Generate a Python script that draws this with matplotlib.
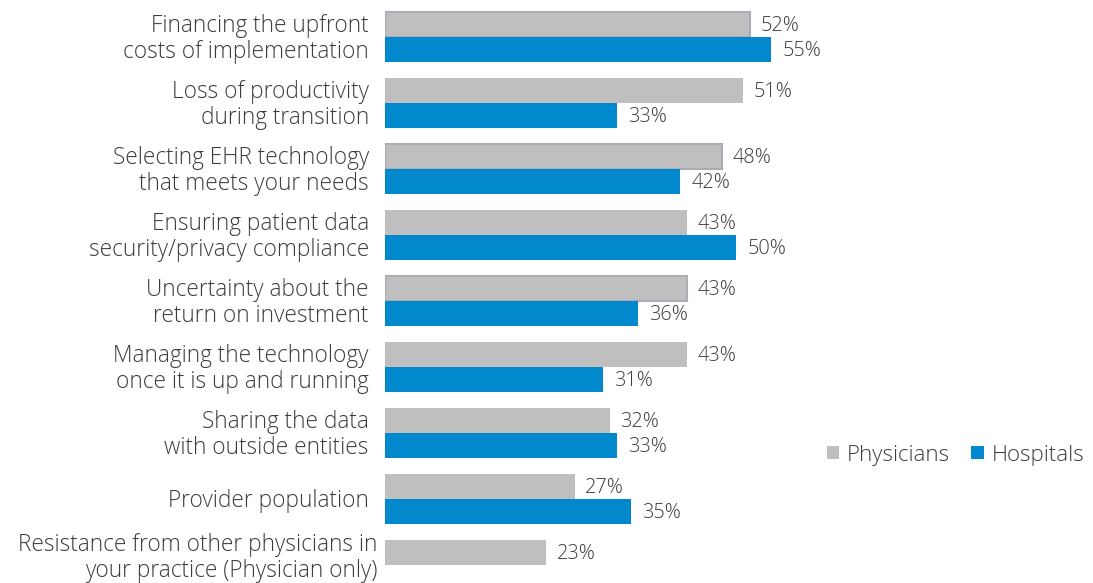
import matplotlib
matplotlib.use("Agg")
import matplotlib.pyplot as plt
from matplotlib.patches import Patch

categories = [
    "Financing the upfront\ncosts of implementation",
    "Loss of productivity\nduring transition",
    "Selecting EHR technology\nthat meets your needs",
    "Ensuring patient data\nsecurity/privacy compliance",
    "Uncertainty about the\nreturn on investment",
    "Managing the technology\nonce it is up and running",
    "Sharing the data\nwith outside entities",
    "Provider population",
    "Resistance from other physicians in\nyour practice (Physician only)",
]
physicians = [52, 51, 48, 43, 43, 43, 32, 27, 23]
hospitals = [55, 33, 42, 50, 36, 31, 33, 35, None]
outlined = [True, False, True, False, True, False, False, False, False]

GRAY = "#bfbfbf"
BLUE = "#0288cc"
EDGE = "#a9aeb5"
TEXT = "#3c3c3c"
FONT = "Open Sans"
WEIGHT = "light"

plt.rcParams["font.family"] = [FONT, "DejaVu Sans"]

fig = plt.figure(figsize=(10.93, 5.83), dpi=100)
ax = fig.add_axes([385 / 1093, 0, 1 - 385 / 1093, 1])

bar_h = 0.379
px_per_unit = 7.02
ax.set_xlim(0, (1093 - 385) / px_per_unit)
ax.set_ylim(8.273, -0.5606)
ax.axis("off")

val_kw = dict(va="center", ha="left", fontsize=14.3, color=TEXT, fontweight=WEIGHT)
for i, (p, h) in enumerate(zip(physicians, hospitals)):
    if outlined[i]:
        ax.barh(i - bar_h / 2, p, height=bar_h, color=GRAY, edgecolor=EDGE,
                linewidth=1.5)
    else:
        ax.barh(i - bar_h / 2, p, height=bar_h, color=GRAY, linewidth=0)
    ax.text(p + 1.5, i - bar_h / 2 + 0.025, f"{p}%", **val_kw)
    if h is not None:
        ax.barh(i + bar_h / 2, h, height=bar_h, color=BLUE, linewidth=0)
        ax.text(h + 1.6, i + bar_h / 2 + 0.025, f"{h}%", **val_kw)

for i, label in enumerate(categories):
    if i == len(categories) - 1:
        x, y = -1.15, i - 0.1
    else:
        x, y = -2.3, i + 0.03
    ax.text(x, y, label, ha="right", va="center", fontsize=16.3, color=TEXT,
            linespacing=1.12, fontweight=WEIGHT)

handles = [Patch(facecolor=GRAY, label="Physicians"),
           Patch(facecolor=BLUE, label="Hospitals")]
fig.legend(handles=handles, loc="center right",
           bbox_to_anchor=(1.0, (583 - 455) / 583),
           ncol=2, frameon=False, handlelength=0.55, handleheight=0.55,
           handletextpad=0.35, columnspacing=0.95, borderaxespad=0.0,
           labelcolor=TEXT,
           prop={"family": [FONT, "DejaVu Sans"], "size": 16.0, "weight": WEIGHT})

fig.savefig("out.png", dpi=100)
